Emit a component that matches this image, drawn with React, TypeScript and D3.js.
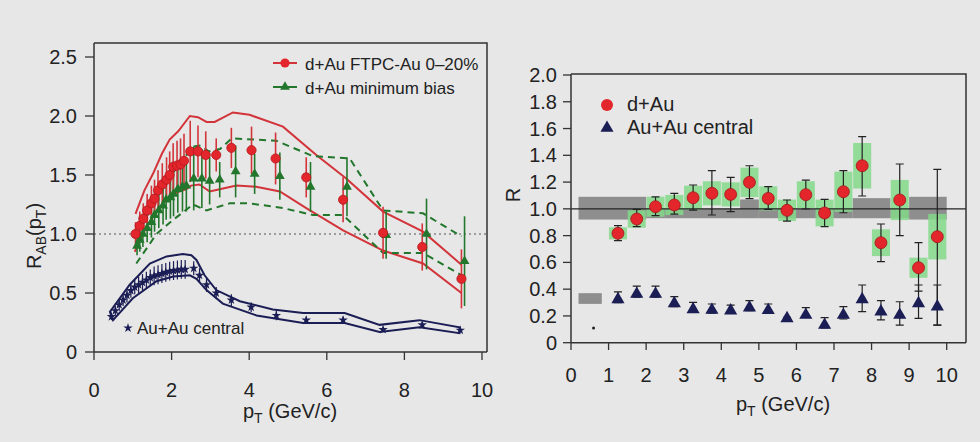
import React, { useEffect, useRef } from 'react';
import * as d3 from 'd3';

// ---- left panel: R_AB(pT) ----
const ftpcPt = [1.07, 1.18, 1.27, 1.37, 1.48, 1.56, 1.65, 1.76, 1.87, 1.95, 2.04, 2.14, 2.23, 2.32, 2.48, 2.68, 2.88, 3.15, 3.54, 4.06, 4.68, 5.47, 6.42, 7.45, 8.46, 9.47];
const ftpcR = [1.0, 1.07, 1.13, 1.2, 1.26, 1.3, 1.37, 1.42, 1.46, 1.5, 1.57, 1.58, 1.59, 1.62, 1.7, 1.7, 1.67, 1.67, 1.73, 1.71, 1.64, 1.48, 1.29, 1.01, 0.89, 0.62];
const ftpcErr = [0.1, 0.12, 0.13, 0.14, 0.15, 0.16, 0.17, 0.18, 0.19, 0.2, 0.2, 0.21, 0.22, 0.23, 0.26, 0.22, 0.2, 0.14, 0.17, 0.2, 0.22, 0.17, 0.19, 0.22, 0.2, 0.25];

const mbPt = [1.11, 1.18, 1.26, 1.37, 1.48, 1.56, 1.67, 1.78, 1.86, 1.97, 2.05, 2.16, 2.28, 2.38, 2.57, 2.78, 2.98, 3.24, 3.65, 4.14, 4.79, 5.58, 6.52, 7.53, 8.57, 9.55];
const mbR = [0.9, 0.95, 1.0, 1.05, 1.1, 1.16, 1.2, 1.24, 1.29, 1.31, 1.34, 1.38, 1.4, 1.41, 1.47, 1.47, 1.45, 1.46, 1.53, 1.51, 1.49, 1.4, 1.4, 0.99, 1.0, 0.77];
const mbErr = [0.08, 0.1, 0.11, 0.12, 0.13, 0.14, 0.15, 0.16, 0.17, 0.18, 0.19, 0.2, 0.21, 0.22, 0.27, 0.25, 0.2, 0.15, 0.22, 0.17, 0.2, 0.21, 0.25, 0.2, 0.3, 0.38];

const auauPt = [0.45, 0.55, 0.65, 0.75, 0.85, 0.95, 1.05, 1.15, 1.25, 1.35, 1.45, 1.55, 1.65, 1.75, 1.85, 1.95, 2.05, 2.15, 2.25, 2.35, 2.57, 2.72, 2.9, 3.15, 3.54, 4.05, 4.7, 5.47, 6.42, 7.45, 8.46, 9.44];
const auauR = [0.3, 0.35, 0.4, 0.44, 0.48, 0.52, 0.55, 0.57, 0.59, 0.61, 0.63, 0.645, 0.655, 0.665, 0.675, 0.685, 0.69, 0.695, 0.7, 0.7, 0.71, 0.65, 0.57, 0.5, 0.44, 0.38, 0.31, 0.27, 0.27, 0.19, 0.23, 0.185];
const auauErr = [0.03, 0.04, 0.05, 0.05, 0.06, 0.06, 0.06, 0.07, 0.07, 0.07, 0.07, 0.08, 0.08, 0.08, 0.08, 0.08, 0.08, 0.08, 0.08, 0.08, 0.06, 0.06, 0.06, 0.05, 0.05, 0.04, 0.04, 0.03, 0.03, 0.02, 0.02, 0.02];

const ftpcHiPt = [1.07, 1.3, 1.52, 1.75, 1.95, 2.17, 2.47, 2.68, 2.9, 3.11, 3.58, 4.01, 4.87, 5.73, 6.5, 7.45, 8.48, 9.47];
const ftpcHiR = [1.17, 1.37, 1.51, 1.68, 1.8, 1.87, 2.0, 1.99, 1.95, 1.95, 2.03, 2.01, 1.91, 1.67, 1.47, 1.19, 1.02, 0.74];
const ftpcLoPt = [1.05, 1.35, 1.69, 2.04, 2.38, 2.5, 2.72, 2.98, 3.24, 3.67, 4.18, 4.79, 5.47, 6.42, 7.45, 8.48, 9.47];
const ftpcLoR = [0.85, 1.06, 1.23, 1.34, 1.38, 1.41, 1.42, 1.36, 1.38, 1.41, 1.4, 1.36, 1.22, 1.03, 0.86, 0.75, 0.5];

const mbHiPt = [1.09, 1.6, 2.1, 2.55, 2.75, 2.95, 3.25, 3.55, 4.7, 5.64, 6.59, 7.45, 8.48, 9.47];
const mbHiR = [0.97, 1.3, 1.55, 1.74, 1.75, 1.7, 1.72, 1.81, 1.79, 1.66, 1.64, 1.2, 1.175, 0.98];
const mbLoPt = [1.09, 1.61, 2.04, 2.55, 2.9, 3.1, 3.5, 4.01, 4.87, 5.65, 6.42, 7.45, 8.48, 9.47];
const mbLoR = [0.75, 1.0, 1.12, 1.25, 1.2, 1.22, 1.26, 1.26, 1.22, 1.16, 1.16, 0.84, 0.84, 0.65];

const auauHiPt = [0.41, 0.92, 1.44, 1.87, 2.29, 2.51, 2.64, 2.85, 3.15, 3.76, 4.61, 5.39, 6.46, 7.36, 8.39, 9.42];
const auauHiR = [0.34, 0.57, 0.75, 0.81, 0.83, 0.82, 0.78, 0.65, 0.525, 0.43, 0.36, 0.33, 0.33, 0.23, 0.27, 0.21];
const auauLoPt = [0.49, 1.0, 1.61, 2.04, 2.47, 2.64, 2.9, 3.32, 4.19, 5.39, 6.46, 7.36, 8.39, 9.42];
const auauLoR = [0.27, 0.455, 0.6, 0.64, 0.65, 0.62, 0.525, 0.41, 0.31, 0.245, 0.245, 0.17, 0.21, 0.16];

const leftYTicks = [0, 0.5, 1.0, 1.5, 2.0, 2.5];
const leftXTicks = [0, 2, 4, 6, 8, 10];

// ---- right panel: R ----
const binPt = [1.25, 1.75, 2.25, 2.75, 3.25, 3.75, 4.25, 4.75, 5.25, 5.75, 6.25, 6.75, 7.25, 7.75, 8.25, 8.75, 9.25, 9.75];
const dauR = [0.817, 0.924, 1.016, 1.029, 1.083, 1.116, 1.108, 1.198, 1.078, 0.989, 1.106, 0.969, 1.128, 1.322, 0.747, 1.066, 0.56, 0.792];
const dauErrHi = [0.874, 0.996, 1.09, 1.116, 1.178, 1.285, 1.235, 1.322, 1.166, 1.066, 1.215, 1.071, 1.285, 1.539, 0.887, 1.335, 0.747, 1.295];
const dauErrLo = [0.762, 0.867, 0.95, 0.96, 0.99, 0.954, 0.98, 1.076, 0.996, 0.909, 0.999, 0.867, 0.971, 1.096, 0.605, 0.8, 0.386, 0.132];
const dauSys = [0.045, 0.065, 0.075, 0.075, 0.09, 0.09, 0.09, 0.11, 0.09, 0.08, 0.1, 0.1, 0.15, 0.17, 0.1, 0.15, 0.075, 0.17];

const auR = [0.324, 0.364, 0.364, 0.294, 0.249, 0.244, 0.239, 0.262, 0.242, 0.182, 0.207, 0.132, 0.207, 0.324, 0.232, 0.207, 0.294, 0.269];
const auErrHi = [0.38, 0.423, 0.423, 0.344, 0.301, 0.289, 0.281, 0.314, 0.289, 0.19, 0.262, 0.187, 0.269, 0.431, 0.314, 0.306, 0.431, 0.431];
const auErrLo = [0.3, 0.34, 0.34, 0.27, 0.23, 0.22, 0.22, 0.24, 0.22, 0.17, 0.19, 0.11, 0.177, 0.232, 0.17, 0.132, 0.182, 0.132];

const normStart = [0.2, 2.0, 4.5, 5.0, 7.5, 8.5, 9.0];
const normEnd = [2.0, 4.5, 5.0, 7.5, 8.5, 9.0, 10.0];
const normLo = [0.92, 0.93, 0.93, 0.93, 0.93, 0.93, 0.92];
const normHi = [1.09, 1.0, 1.07, 1.0, 1.08, 1.0, 1.09];
const auNormBox = [0.2, 0.82, 0.29, 0.37];
const strayDot = [0.6, 0.11];

const rightYTicks = [0, 0.2, 0.4, 0.6, 0.8, 1.0, 1.2, 1.4, 1.6, 1.8, 2.0];
const rightXTicks = [0, 1, 2, 3, 4, 5, 6, 7, 8, 9, 10];

const RED = '#e3262b';
const REDLINE = '#d2343a';
const GREEN = '#22772c';
const NAVY = '#1b1d55';
const FONT = '"Liberation Sans", Arial, sans-serif';

const zip = (a: number[], b: number[]) => a.map((v, i) => [v, b[i]] as [number, number]);

export default function App() {
  const ref = useRef<SVGSVGElement>(null);

  useEffect(() => {
    const svg = d3.select(ref.current);
    svg.selectAll('*').remove();

    svg.append('rect').attr('width', 980).attr('height', 442).attr('fill', '#e7e7e7');

    // ================= LEFT =================
    const x = d3.scaleLinear().domain([0, 10]).range([94, 482]);
    const y = d3.scaleLinear().domain([0, 2.5]).range([352, 57]);
    const L = svg.append('g');

    // frame
    L.append('path')
      .attr('d', `M94,43 H487 V352`)
      .attr('fill', 'none').attr('stroke', '#333').attr('stroke-width', 1.5);

    // dotted line at 1
    L.append('line')
      .attr('x1', 94).attr('x2', 487).attr('y1', y(1)).attr('y2', y(1))
      .attr('stroke', '#555').attr('stroke-width', 1.2).attr('stroke-dasharray', '2,3');

    const line = d3.line<[number, number]>().x(d => x(d[0])).y(d => y(d[1]));

    // bands
    L.append('path').attr('d', line(zip(ftpcHiPt, ftpcHiR)))
      .attr('fill', 'none').attr('stroke', REDLINE).attr('stroke-width', 2);
    L.append('path').attr('d', line(zip(ftpcLoPt, ftpcLoR)))
      .attr('fill', 'none').attr('stroke', REDLINE).attr('stroke-width', 2);
    L.append('path').attr('d', line(zip(mbHiPt, mbHiR)))
      .attr('fill', 'none').attr('stroke', GREEN).attr('stroke-width', 2).attr('stroke-dasharray', '7,5');
    L.append('path').attr('d', line(zip(mbLoPt, mbLoR)))
      .attr('fill', 'none').attr('stroke', GREEN).attr('stroke-width', 2).attr('stroke-dasharray', '7,5');

    const auBand = zip(auauHiPt, auauHiR).concat(zip(auauLoPt, auauLoR).reverse());
    L.append('path').attr('d', line(auBand) + 'Z')
      .attr('fill', 'none').attr('stroke', NAVY).attr('stroke-width', 2);

    // error bars
    L.selectAll('auerr').data(auauPt).enter().append('line')
      .attr('x1', d => x(d)).attr('x2', d => x(d))
      .attr('y1', (d, i) => y(auauR[i] + auauErr[i])).attr('y2', (d, i) => y(auauR[i] - auauErr[i]))
      .attr('stroke', NAVY).attr('stroke-width', 1.2);
    L.selectAll('mberr').data(mbPt).enter().append('line')
      .attr('x1', d => x(d)).attr('x2', d => x(d))
      .attr('y1', (d, i) => y(mbR[i] + mbErr[i])).attr('y2', (d, i) => y(mbR[i] - mbErr[i]))
      .attr('stroke', GREEN).attr('stroke-width', 1.6);
    L.selectAll('ftpcerr').data(ftpcPt).enter().append('line')
      .attr('x1', d => x(d)).attr('x2', d => x(d))
      .attr('y1', (d, i) => y(ftpcR[i] + ftpcErr[i])).attr('y2', (d, i) => y(ftpcR[i] - ftpcErr[i]))
      .attr('stroke', REDLINE).attr('stroke-width', 1.6);

    // markers
    const star = d3.symbol().type(d3.symbolStar).size(28);
    const tri = d3.symbol().type(d3.symbolTriangle).size(42);
    L.selectAll('aupts').data(auauPt).enter().append('path')
      .attr('d', star)
      .attr('transform', (d, i) => `translate(${x(d)},${y(auauR[i])})`)
      .attr('fill', NAVY);
    L.selectAll('mbpts').data(mbPt).enter().append('path')
      .attr('d', tri)
      .attr('transform', (d, i) => `translate(${x(d)},${y(mbR[i])})`)
      .attr('fill', GREEN);
    L.selectAll('ftpcpts').data(ftpcPt).enter().append('circle')
      .attr('cx', d => x(d)).attr('cy', (d, i) => y(ftpcR[i])).attr('r', 4.6)
      .attr('fill', RED).attr('stroke', '#b3181d').attr('stroke-width', 0.8);

    // axes
    L.append('line').attr('x1', 94).attr('x2', 94).attr('y1', 43).attr('y2', 352)
      .attr('stroke', '#333').attr('stroke-width', 1.5);
    L.append('line').attr('x1', 94).attr('x2', 487).attr('y1', 352).attr('y2', 352)
      .attr('stroke', '#333').attr('stroke-width', 1.5);
    L.selectAll('yt').data(leftYTicks).enter().append('line')
      .attr('x1', 85).attr('x2', 94).attr('y1', d => y(d)).attr('y2', d => y(d))
      .attr('stroke', '#333').attr('stroke-width', 1.3);
    L.selectAll('ytl').data(leftYTicks).enter().append('text')
      .attr('x', 77).attr('y', d => y(d) + 7).attr('text-anchor', 'end')
      .attr('font-family', FONT).attr('font-size', 20).attr('fill', '#222')
      .text(d => d === 0 ? '0' : d.toFixed(1));
    L.selectAll('xt').data(leftXTicks).enter().append('line')
      .attr('x1', d => x(d)).attr('x2', d => x(d)).attr('y1', 352).attr('y2', 360)
      .attr('stroke', '#333').attr('stroke-width', 1.3);
    L.selectAll('xtl').data(leftXTicks).enter().append('text')
      .attr('x', d => x(d)).attr('y', 397).attr('text-anchor', 'middle')
      .attr('font-family', FONT).attr('font-size', 20).attr('fill', '#222')
      .text(d => d);

    const lxt = L.append('text').attr('x', 290).attr('y', 418).attr('text-anchor', 'middle')
      .attr('font-family', FONT).attr('font-size', 20).attr('fill', '#222');
    lxt.append('tspan').text('p');
    lxt.append('tspan').attr('font-size', 14).attr('dy', 5).text('T');
    lxt.append('tspan').attr('dy', -5).text(' (GeV/c)');

    const lyt = L.append('text').attr('transform', 'translate(41,236) rotate(-90)').attr('text-anchor', 'middle')
      .attr('font-family', FONT).attr('font-size', 20).attr('fill', '#222');
    lyt.append('tspan').text('R');
    lyt.append('tspan').attr('font-size', 14).attr('dy', 5).text('AB');
    lyt.append('tspan').attr('dy', -5).text('(p');
    lyt.append('tspan').attr('font-size', 14).attr('dy', 5).text('T');
    lyt.append('tspan').attr('dy', -5).text(')');

    // legend
    L.append('line').attr('x1', 273).attr('x2', 297).attr('y1', 63).attr('y2', 63)
      .attr('stroke', REDLINE).attr('stroke-width', 2);
    L.append('circle').attr('cx', 285).attr('cy', 63).attr('r', 4.6).attr('fill', RED);
    L.append('text').attr('x', 305).attr('y', 69.5).attr('font-family', FONT).attr('font-size', 17)
      .attr('fill', '#222').text('d+Au FTPC-Au 0\u201320%');
    L.append('line').attr('x1', 273).attr('x2', 297).attr('y1', 87).attr('y2', 87)
      .attr('stroke', GREEN).attr('stroke-width', 2);
    L.append('path').attr('d', tri).attr('transform', 'translate(285,87)').attr('fill', GREEN);
    L.append('text').attr('x', 305).attr('y', 93.5).attr('font-family', FONT).attr('font-size', 17)
      .attr('fill', '#222').text('d+Au minimum bias');
    L.append('path').attr('d', star).attr('transform', 'translate(128,328)').attr('fill', NAVY);
    L.append('text').attr('x', 137).attr('y', 334).attr('font-family', FONT).attr('font-size', 17)
      .attr('fill', '#222').text('Au+Au central');

    // ================= RIGHT =================
    const xr = d3.scaleLinear().domain([0, 10]).range([571, 946.7]);
    const yr = d3.scaleLinear().domain([0, 2]).range([342.7, 75]);
    const R = svg.append('g');
    const bw = 0.24;

    R.selectAll('norm').data(normStart).enter().append('rect')
      .attr('x', d => xr(d)).attr('width', (d, i) => xr(normEnd[i]) - xr(d))
      .attr('y', (d, i) => yr(normHi[i])).attr('height', (d, i) => yr(normLo[i]) - yr(normHi[i]))
      .attr('fill', '#8e8e8e');
    R.append('rect')
      .attr('x', xr(auNormBox[0])).attr('width', xr(auNormBox[1]) - xr(auNormBox[0]))
      .attr('y', yr(auNormBox[3])).attr('height', yr(auNormBox[2]) - yr(auNormBox[3]))
      .attr('fill', '#8e8e8e');
    R.append('circle').attr('cx', xr(strayDot[0])).attr('cy', yr(strayDot[1])).attr('r', 1.5).attr('fill', '#222');

    R.selectAll('sys').data(binPt).enter().append('rect')
      .attr('x', d => xr(d - bw)).attr('width', d => xr(d + bw) - xr(d - bw))
      .attr('y', (d, i) => yr(dauR[i] + dauSys[i])).attr('height', (d, i) => yr(dauR[i] - dauSys[i]) - yr(dauR[i] + dauSys[i]))
      .attr('fill', '#82d98a').attr('opacity', 0.85);

    R.append('line').attr('x1', 571).attr('x2', 966).attr('y1', yr(1)).attr('y2', yr(1))
      .attr('stroke', '#222').attr('stroke-width', 1.3);

    // frame
    R.append('path').attr('d', 'M571,74 H966 V342.7')
      .attr('fill', 'none').attr('stroke', '#333').attr('stroke-width', 1.5);

    const cap = 4;
    const errs = (name: string, hi: number[], lo: number[]) => {
      const g = R.append('g').attr('stroke', '#222').attr('stroke-width', 1.2);
      g.selectAll(name).data(binPt).enter().append('path')
        .attr('d', (d, i) => {
          const xx = xr(d), a = yr(hi[i]), b = yr(lo[i]);
          return `M${xx},${a}V${b}M${xx - cap},${a}H${xx + cap}M${xx - cap},${b}H${xx + cap}`;
        })
        .attr('fill', 'none');
    };
    errs('auerr', auErrHi, auErrLo);
    errs('dauerr', dauErrHi, dauErrLo);

    const rtri = d3.symbol().type(d3.symbolTriangle).size(75);
    R.selectAll('aupt').data(binPt).enter().append('path')
      .attr('d', rtri)
      .attr('transform', (d, i) => `translate(${xr(d)},${yr(auR[i])})`)
      .attr('fill', NAVY);
    R.selectAll('daupt').data(binPt).enter().append('circle')
      .attr('cx', d => xr(d)).attr('cy', (d, i) => yr(dauR[i])).attr('r', 6)
      .attr('fill', RED).attr('stroke', '#a3161a').attr('stroke-width', 0.8);

    // axes
    R.append('line').attr('x1', 571).attr('x2', 571).attr('y1', 74).attr('y2', 342.7)
      .attr('stroke', '#333').attr('stroke-width', 1.5);
    R.append('line').attr('x1', 571).attr('x2', 966).attr('y1', 342.7).attr('y2', 342.7)
      .attr('stroke', '#333').attr('stroke-width', 1.5);
    R.selectAll('yt').data(rightYTicks).enter().append('line')
      .attr('x1', 563).attr('x2', 571).attr('y1', d => yr(d)).attr('y2', d => yr(d))
      .attr('stroke', '#333').attr('stroke-width', 1.3);
    R.selectAll('ytl').data(rightYTicks).enter().append('text')
      .attr('x', 557).attr('y', d => yr(d) + 7).attr('text-anchor', 'end')
      .attr('font-family', FONT).attr('font-size', 20).attr('fill', '#222')
      .text(d => d === 0 ? '0' : d.toFixed(1));
    R.selectAll('xt').data(rightXTicks).enter().append('line')
      .attr('x1', d => xr(d)).attr('x2', d => xr(d)).attr('y1', 342.7).attr('y2', 350)
      .attr('stroke', '#333').attr('stroke-width', 1.3);
    R.selectAll('xtl').data(rightXTicks).enter().append('text')
      .attr('x', d => xr(d)).attr('y', 382).attr('text-anchor', 'middle')
      .attr('font-family', FONT).attr('font-size', 20).attr('fill', '#222')
      .text(d => d);

    const rxt = R.append('text').attr('x', 783).attr('y', 411).attr('text-anchor', 'middle')
      .attr('font-family', FONT).attr('font-size', 20).attr('fill', '#222');
    rxt.append('tspan').text('p');
    rxt.append('tspan').attr('font-size', 14).attr('dy', 5).text('T');
    rxt.append('tspan').attr('dy', -5).text(' (GeV/c)');

    R.append('text').attr('transform', 'translate(520,195) rotate(-90)').attr('text-anchor', 'middle')
      .attr('font-family', FONT).attr('font-size', 20).attr('fill', '#222').text('R');

    // legend
    R.append('circle').attr('cx', 607).attr('cy', 105).attr('r', 6).attr('fill', RED);
    R.append('text').attr('x', 627).attr('y', 111).attr('font-family', FONT).attr('font-size', 20)
      .attr('fill', '#222').text('d+Au');
    R.append('path').attr('d', rtri).attr('transform', 'translate(607,128)').attr('fill', NAVY);
    R.append('text').attr('x', 627).attr('y', 134).attr('font-family', FONT).attr('font-size', 20)
      .attr('fill', '#222').text('Au+Au central');
  }, []);

  return (
    <svg ref={ref} width={980} height={442} style={{ position: 'absolute', left: 0, top: 0, display: 'block' }} />
  );
}
